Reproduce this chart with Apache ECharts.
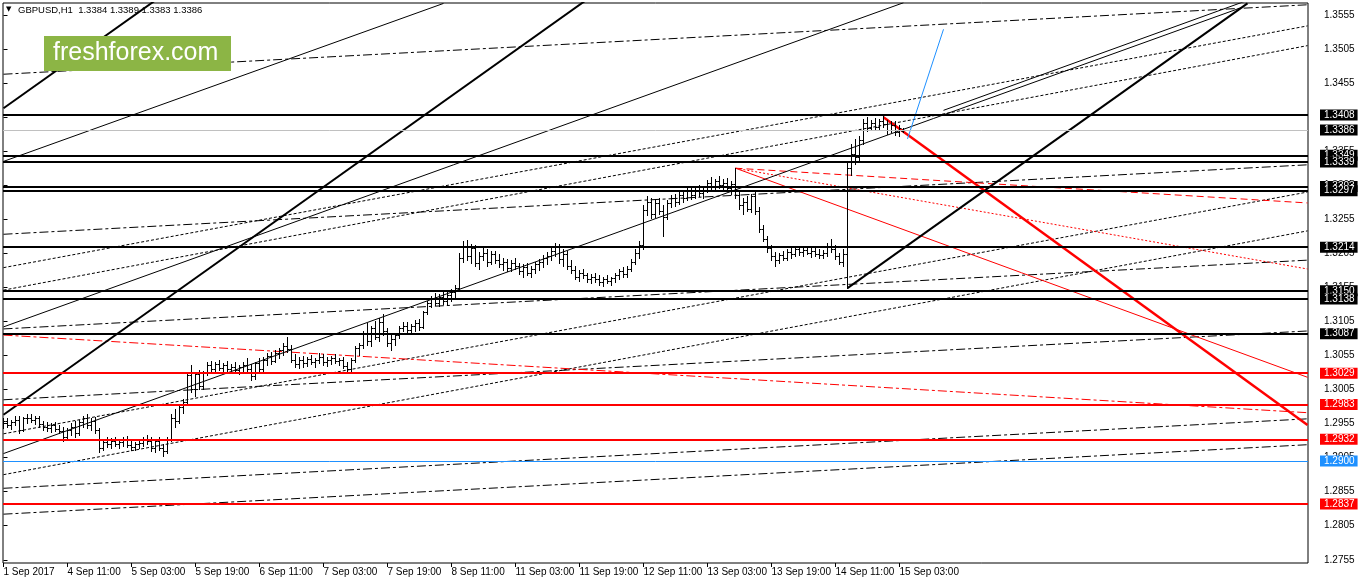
<!DOCTYPE html>
<html>
<head>
<meta charset="utf-8">
<script src="https://cdn.jsdelivr.net/npm/echarts@6/dist/echarts.min.js"></script>
<style>
html,body{margin:0;padding:0;background:#fff;}
#c{width:1358px;height:584px;}
</style>
</head>
<body>
<div id="c"></div>
<script>
// ---- data ----
const tickBars = [0,16,32,48,64,80,96,112,128,144,160,176,192,208,224];
const tickLabels = ["1 Sep 2017","4 Sep 11:00","5 Sep 03:00","5 Sep 19:00","6 Sep 11:00","7 Sep 03:00","7 Sep 19:00","8 Sep 11:00","11 Sep 03:00","11 Sep 19:00","12 Sep 11:00","13 Sep 03:00","13 Sep 19:00","14 Sep 11:00","15 Sep 03:00"];
const priceTicks = [1.2755,1.2805,1.2855,1.2905,1.2955,1.3005,1.3055,1.3105,1.3155,1.3205,1.3255,1.3305,1.3355,1.3405,1.3455,1.3505,1.3555];

const open = [1.2955,1.2958,1.2952,1.2957,1.2960,1.2945,1.2962,1.2963,1.2960,1.2962,
1.2953,1.2950,1.2948,1.2952,1.2946,1.2944,1.2935,1.2945,1.2950,1.2940,
1.2957,1.2962,1.2952,1.2958,1.2945,1.2918,1.2927,1.2925,1.2929,1.2924,
1.2927,1.2930,1.2923,1.2920,1.2924,1.2926,1.2932,1.2928,1.2918,1.2929,
1.2919,1.2914,1.2932,1.2962,1.2958,1.2978,1.2986,1.3025,1.3005,1.3027,
1.3010,1.3028,1.3040,1.3035,1.3042,1.3036,1.3040,1.3034,1.3038,1.3033,
1.3037,1.3041,1.3034,1.3024,1.3043,1.3035,1.3048,1.3054,1.3046,1.3058,
1.3062,1.3068,1.3064,1.3048,1.3042,1.3048,1.3043,1.3049,1.3045,1.3047,
1.3052,1.3044,1.3048,1.3050,1.3046,1.3048,1.3039,1.3034,1.3047,1.3065,
1.3069,1.3086,1.3075,1.3094,1.3082,1.3104,1.3090,1.3072,1.3078,1.3084,
1.3095,1.3098,1.3092,1.3097,1.3102,1.3096,1.3118,1.3132,1.3138,1.3132,
1.3140,1.3134,1.3143,1.3148,1.3154,1.3198,1.3215,1.3200,1.3212,1.3190,
1.3200,1.3205,1.3192,1.3203,1.3195,1.3188,1.3192,1.3183,1.3190,1.3186,
1.3178,1.3184,1.3176,1.3182,1.3188,1.3192,1.3198,1.3200,1.3208,1.3214,
1.3196,1.3204,1.3186,1.3180,1.3170,1.3176,1.3172,1.3166,1.3170,1.3166,
1.3162,1.3167,1.3163,1.3168,1.3172,1.3178,1.3174,1.3182,1.3192,1.3205,
1.3216,1.3268,1.3280,1.3262,1.3278,1.3266,1.3258,1.3278,1.3285,1.3280,
1.3290,1.3285,1.3296,1.3290,1.3297,1.3293,1.3298,1.3308,1.3302,1.3310,
1.3305,1.3308,1.3300,1.3306,1.3290,1.3275,1.3280,1.3270,1.3288,1.3266,
1.3240,1.3226,1.3212,1.3200,1.3194,1.3202,1.3198,1.3206,1.3203,1.3210,
1.3206,1.3209,1.3205,1.3207,1.3204,1.3202,1.3205,1.3214,1.3210,1.3200,
1.3192,1.3204,1.3330,1.3350,1.3345,1.3370,1.3395,1.3388,1.3396,1.3390,
1.3398,1.3394,1.3385,1.3392,1.3382,1.3384];

const high = [1.2962,1.2963,1.2960,1.2965,1.2966,1.2964,1.2968,1.2969,1.2966,1.2965,
1.2958,1.2956,1.2955,1.2957,1.2952,1.2950,1.2948,1.2955,1.2958,1.2960,
1.2966,1.2968,1.2962,1.2964,1.2948,1.2930,1.2934,1.2933,1.2935,1.2931,
1.2934,1.2936,1.2929,1.2927,1.2930,1.2935,1.2938,1.2934,1.2932,1.2935,
1.2925,1.2935,1.2968,1.2975,1.2980,1.2990,1.3030,1.3040,1.3030,1.3033,
1.3032,1.3044,1.3046,1.3045,1.3047,1.3043,1.3046,1.3042,1.3044,1.3041,
1.3044,1.3050,1.3042,1.3045,1.3050,1.3052,1.3058,1.3060,1.3062,1.3066,
1.3072,1.3082,1.3070,1.3056,1.3052,1.3054,1.3052,1.3055,1.3050,1.3058,
1.3057,1.3052,1.3054,1.3056,1.3051,1.3052,1.3044,1.3050,1.3068,1.3072,
1.3090,1.3102,1.3098,1.3105,1.3110,1.3115,1.3095,1.3084,1.3088,1.3098,
1.3104,1.3103,1.3100,1.3106,1.3108,1.3120,1.3135,1.3142,1.3146,1.3144,
1.3148,1.3147,1.3152,1.3158,1.3205,1.3222,1.3224,1.3218,1.3216,1.3206,
1.3212,1.3210,1.3208,1.3207,1.3204,1.3198,1.3196,1.3194,1.3197,1.3190,
1.3188,1.3190,1.3186,1.3192,1.3196,1.3202,1.3206,1.3212,1.3220,1.3218,
1.3210,1.3208,1.3194,1.3186,1.3180,1.3182,1.3176,1.3174,1.3176,1.3172,
1.3170,1.3172,1.3170,1.3176,1.3182,1.3184,1.3186,1.3196,1.3210,1.3222,
1.3275,1.3288,1.3286,1.3284,1.3285,1.3275,1.3282,1.3290,1.3292,1.3294,
1.3298,1.3300,1.3302,1.3300,1.3304,1.3302,1.3312,1.3316,1.3314,1.3318,
1.3313,1.3315,1.3310,1.3330,1.3296,1.3286,1.3288,1.3292,1.3295,1.3272,
1.3246,1.3230,1.3216,1.3206,1.3205,1.3208,1.3210,1.3212,1.3214,1.3215,
1.3214,1.3215,1.3212,1.3213,1.3210,1.3209,1.3220,1.3225,1.3216,1.3205,
1.3210,1.3338,1.3365,1.3372,1.3376,1.3402,1.3404,1.3400,1.3403,1.3401,
1.3406,1.3400,1.3398,1.3399,1.3392,1.3389];

const low = [1.2948,1.2950,1.2947,1.2952,1.2940,1.2943,1.2955,1.2957,1.2954,1.2950,
1.2945,1.2944,1.2942,1.2944,1.2940,1.2928,1.2930,1.2938,1.2935,1.2938,
1.2950,1.2948,1.2945,1.2940,1.2912,1.2915,1.2920,1.2919,1.2921,1.2918,
1.2922,1.2920,1.2916,1.2915,1.2918,1.2922,1.2924,1.2914,1.2913,1.2915,
1.2907,1.2911,1.2928,1.2950,1.2955,1.2970,1.2982,1.3000,1.2995,1.3005,
1.3005,1.3025,1.3032,1.3030,1.3033,1.3028,1.3032,1.3029,1.3031,1.3027,
1.3030,1.3030,1.3019,1.3020,1.3030,1.3032,1.3040,1.3042,1.3044,1.3050,
1.3055,1.3060,1.3044,1.3038,1.3036,1.3038,1.3039,1.3042,1.3038,1.3043,
1.3040,1.3039,1.3042,1.3043,1.3040,1.3036,1.3031,1.3032,1.3045,1.3055,
1.3066,1.3070,1.3068,1.3078,1.3076,1.3085,1.3068,1.3062,1.3070,1.3080,
1.3090,1.3088,1.3086,1.3090,1.3092,1.3094,1.3115,1.3126,1.3128,1.3127,
1.3130,1.3128,1.3135,1.3140,1.3150,1.3192,1.3195,1.3190,1.3185,1.3182,
1.3194,1.3186,1.3188,1.3190,1.3184,1.3180,1.3178,1.3179,1.3182,1.3174,
1.3170,1.3172,1.3169,1.3176,1.3180,1.3184,1.3188,1.3195,1.3200,1.3190,
1.3186,1.3182,1.3176,1.3166,1.3164,1.3168,1.3162,1.3160,1.3162,1.3158,
1.3157,1.3160,1.3158,1.3162,1.3166,1.3170,1.3170,1.3178,1.3188,1.3198,
1.3210,1.3260,1.3256,1.3258,1.3262,1.3230,1.3255,1.3272,1.3274,1.3276,
1.3280,1.3282,1.3284,1.3286,1.3288,1.3286,1.3294,1.3298,1.3296,1.3300,
1.3298,1.3296,1.3292,1.3285,1.3270,1.3262,1.3266,1.3265,1.3262,1.3235,
1.3222,1.3206,1.3195,1.3185,1.3190,1.3194,1.3195,1.3198,1.3200,1.3202,
1.3200,1.3203,1.3199,1.3201,1.3198,1.3197,1.3200,1.3206,1.3196,1.3188,
1.3186,1.3154,1.3320,1.3335,1.3340,1.3365,1.3384,1.3385,1.3387,1.3386,
1.3390,1.3380,1.3382,1.3378,1.3376,1.3383];

const close = [1.2958,1.2952,1.2957,1.2960,1.2945,1.2962,1.2963,1.2960,1.2962,1.2953,
1.2950,1.2948,1.2952,1.2946,1.2944,1.2935,1.2945,1.2950,1.2940,1.2957,
1.2962,1.2952,1.2958,1.2945,1.2918,1.2927,1.2925,1.2929,1.2924,1.2927,
1.2930,1.2923,1.2920,1.2924,1.2926,1.2932,1.2928,1.2918,1.2929,1.2919,
1.2914,1.2932,1.2962,1.2958,1.2978,1.2986,1.3025,1.3005,1.3027,1.3010,
1.3028,1.3040,1.3035,1.3042,1.3036,1.3040,1.3034,1.3038,1.3033,1.3037,
1.3041,1.3034,1.3024,1.3043,1.3035,1.3048,1.3054,1.3046,1.3058,1.3062,
1.3068,1.3064,1.3048,1.3042,1.3048,1.3043,1.3049,1.3045,1.3047,1.3052,
1.3044,1.3048,1.3050,1.3046,1.3048,1.3039,1.3034,1.3047,1.3065,1.3069,
1.3086,1.3075,1.3094,1.3082,1.3104,1.3090,1.3072,1.3078,1.3084,1.3095,
1.3098,1.3092,1.3097,1.3102,1.3096,1.3118,1.3132,1.3138,1.3132,1.3140,
1.3134,1.3143,1.3148,1.3154,1.3198,1.3215,1.3200,1.3212,1.3190,1.3200,
1.3205,1.3192,1.3203,1.3195,1.3188,1.3192,1.3183,1.3190,1.3186,1.3178,
1.3184,1.3176,1.3182,1.3188,1.3192,1.3198,1.3200,1.3208,1.3214,1.3196,
1.3204,1.3186,1.3180,1.3170,1.3176,1.3172,1.3166,1.3170,1.3166,1.3162,
1.3167,1.3163,1.3168,1.3172,1.3178,1.3174,1.3182,1.3192,1.3205,1.3216,
1.3268,1.3280,1.3262,1.3278,1.3266,1.3258,1.3278,1.3285,1.3280,1.3290,
1.3285,1.3296,1.3290,1.3297,1.3293,1.3298,1.3308,1.3302,1.3310,1.3305,
1.3308,1.3300,1.3306,1.3290,1.3275,1.3280,1.3270,1.3288,1.3266,1.3240,
1.3226,1.3212,1.3200,1.3194,1.3202,1.3198,1.3206,1.3203,1.3210,1.3206,
1.3209,1.3205,1.3207,1.3204,1.3202,1.3205,1.3214,1.3210,1.3200,1.3192,
1.3204,1.3330,1.3350,1.3345,1.3370,1.3395,1.3388,1.3396,1.3390,1.3398,
1.3394,1.3385,1.3392,1.3382,1.3388,1.3386];

// horizontal levels
const blackLevels = [1.3408,1.3349,1.3339,1.3303,1.3297,1.3214,1.3150,1.3138,1.3087];
const redLevels = [1.3029,1.2983,1.2932,1.2837];
const blueLevels = [1.2900];
const bidPrice = 1.3386;

// trend lines: [barFrom, priceFrom, barTo, priceTo]
const thickChannel = [[0,1.3418,40,1.3585],[0,1.2968,150,1.3595],[211,1.3154,311,1.3572]];
const thinTrend = [[0,1.3340,110,1.3572],[0,1.3097,225,1.3573],[0,1.2911,310,1.3567],[235,1.3415,315,1.3585]];
const dotTrend = [[0,1.3184,326,1.3539],[0,1.3151,326,1.3510],[0,1.2940,326,1.3295],[0,1.2880,326,1.3238]];
const dashDotTrend = [[0,1.3468,326,1.3570],[0,1.3233,326,1.3335],[0,1.3094,326,1.3195],[0,1.2990,326,1.3091],[0,1.2860,326,1.2962],[0,1.2822,326,1.2924]];
const redDashDot = [[0,1.3085,326,1.2971]];
const redFanDash = [[183,1.3330,326,1.3279]];
const redFanDot = [[183,1.3330,326,1.3182]];
const redFanThin = [[183,1.3330,326,1.3023]];
const redThick = [[220,1.3405,326,1.2953]];
const blueTrend = [[226,1.3373,235,1.3534]];

// ---- chart ----
const FONT = 'Liberation Sans';
const chart = echarts.init(document.getElementById('c'));
const bars = open.map((o, i) => [i, o, high[i], low[i], close[i]]);

function segSeries(list, style) {
  return list.map(s => ({
    type: 'line', data: [[s[0], s[1]], [s[2], s[3]]], symbol: 'none', silent: true,
    animation: false, clip: true, z: 2, lineStyle: style
  }));
}

const levelLabel = (bg) => ({
  show: true, position: 'end', distance: 12, formatter: p => Number(p.value).toFixed(4),
  color: '#fff', backgroundColor: bg, padding: [1, 3, 0, 4], fontSize: 10, fontFamily: FONT, lineHeight: 10
});

const levelData = []
  .concat(redLevels.map(v => ({ yAxis: v, lineStyle: { color: '#ff0000', width: 2, type: 'solid' }, label: levelLabel('#ff0000') })))
  .concat(blueLevels.map(v => ({ yAxis: v, lineStyle: { color: '#1e90ff', width: 1, type: 'solid' }, label: levelLabel('#1e90ff') })))
  .concat([{ yAxis: bidPrice, lineStyle: { color: '#c0c0c0', width: 1, type: 'solid' }, label: levelLabel('#000') }])
  .concat(blackLevels.map(v => ({ yAxis: v, lineStyle: { color: '#000', width: 2, type: 'solid' }, label: levelLabel('#000') })));

const series = [].concat(
  segSeries(dotTrend, { color: '#000', width: 1, type: [3, 2] }),
  segSeries(dashDotTrend, { color: '#000', width: 1, type: [9, 3, 3, 3] }),
  segSeries(redDashDot, { color: '#ff0000', width: 1, type: [9, 3, 3, 3] }),
  segSeries(redFanDash, { color: '#ff0000', width: 1, type: [7, 4] }),
  segSeries(redFanDot, { color: '#ff0000', width: 1, type: [2, 2] }),
  segSeries(redFanThin, { color: '#ff0000', width: 1, type: 'solid' }),
  segSeries(thinTrend, { color: '#000', width: 1, type: 'solid' }),
  segSeries(thickChannel, { color: '#000', width: 2, type: 'solid' }),
  segSeries(redThick, { color: '#ff0000', width: 2.5, type: 'solid' }),
  segSeries(blueTrend, { color: '#1e90ff', width: 1, type: 'solid' }),
  [{
    type: 'line', data: [[0, bidPrice]], symbol: 'none', lineStyle: { opacity: 0 }, silent: true, animation: false,
    markLine: { symbol: ['none', 'none'], precision: 4, silent: true, animation: false, data: levelData }
  },
  {
    type: 'custom', data: bars, encode: { x: 0, y: [2, 3] }, clip: true, z: 3, silent: true, animation: false,
    renderItem: function (params, api) {
      const i = api.value(0);
      const pH = api.coord([i, api.value(2)]);
      const pL = api.coord([i, api.value(3)]);
      const pO = api.coord([i, api.value(1)]);
      const pC = api.coord([i, api.value(4)]);
      const x = Math.floor(pH[0]) + 0.5;
      const r = v => Math.floor(v) + 0.5;
      const st = { stroke: '#000', lineWidth: 1 };
      return {
        type: 'group', children: [
          { type: 'line', shape: { x1: x, y1: Math.floor(pH[1]), x2: x, y2: Math.floor(pL[1]) + 1 }, style: st },
          { type: 'line', shape: { x1: x - 2, y1: r(pO[1]), x2: x, y2: r(pO[1]) }, style: st },
          { type: 'line', shape: { x1: x, y1: r(pC[1]), x2: x + 2, y2: r(pC[1]) }, style: st }
        ]
      };
    }
  }]
);

chart.setOption({
  animation: false,
  backgroundColor: '#fff',
  grid: { left: 3, right: 50, top: 3, bottom: 21, show: true, borderColor: '#000', borderWidth: 1, backgroundColor: '#fff' },
  xAxis: {
    type: 'value', min: -0.125, max: 326.125,
    splitLine: { show: false }, axisLine: { show: false },
    axisTick: { show: true, length: 4, lineStyle: { color: '#000' }, customValues: tickBars },
    axisLabel: {
      customValues: tickBars, formatter: v => tickLabels[tickBars.indexOf(Math.round(v))] || '',
      align: 'left', margin: 4, color: '#000', fontSize: 10, fontFamily: FONT
    }
  },
  yAxis: {
    type: 'value', position: 'right', min: 1.27503, max: 1.35726,
    splitLine: { show: false }, axisLine: { show: false },
    axisTick: { show: true, length: 4, lineStyle: { color: '#000' }, customValues: priceTicks },
    axisLabel: { customValues: priceTicks, formatter: v => v.toFixed(4), color: '#000', fontSize: 10, fontFamily: FONT, margin: 16 }
  },
  graphic: [
    { type: 'text', left: 6, top: 6, z: 100, style: { text: '\u25BC', font: '7px DejaVu Sans', fill: '#000' } },
    { type: 'text', left: 18, top: 5, z: 100, style: { text: 'GBPUSD,H1  1.3384 1.3389 1.3383 1.3386', font: '9.5px Liberation Sans', fill: '#000' } },
    { type: 'rect', shape: { x: 44, y: 36, width: 187, height: 35 }, z: 100, style: { fill: '#8cb545' } },
    { type: 'text', x: 53, y: 53.5, z: 101, style: { text: 'freshforex.com', font: '25px Liberation Sans', fill: '#fff', verticalAlign: 'middle' } }
  ],
  series: series
});
</script>
</body>
</html>
